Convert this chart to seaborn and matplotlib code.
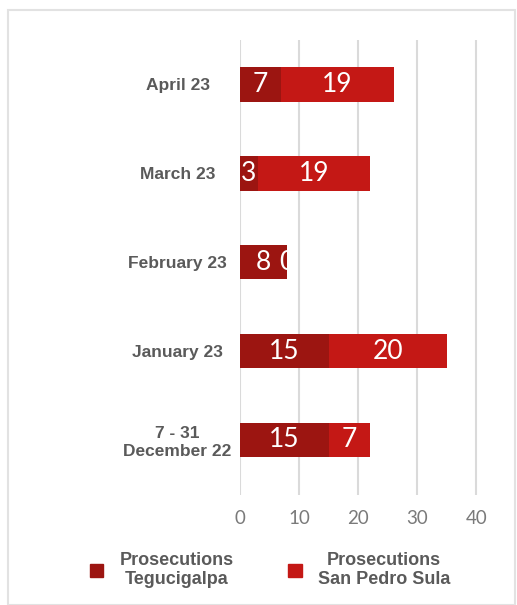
import matplotlib.pyplot as plt
import matplotlib.patches as mpatches
import pandas as pd
import seaborn as sns

sns.set_style("white")

months = ["April 23", "March 23", "February 23", "January 23", "7 - 31\nDecember 22"]
tegucigalpa = [7, 3, 8, 15, 15]
san_pedro_sula = [19, 19, 0, 20, 7]
series_names = ["Prosecutions\nTegucigalpa", "Prosecutions\nSan Pedro Sula"]

dark_red = "#9C1511"
red = "#C41815"
grey_text = "#5A5A5A"

df = pd.DataFrame({
    "Month": months,
    "Tegucigalpa": tegucigalpa,
    "San Pedro Sula": san_pedro_sula,
})
df["Total"] = df["Tegucigalpa"] + df["San Pedro Sula"]

fig = plt.figure(figsize=(5.17, 6.05), dpi=100)
ax = fig.add_axes([240 / 517, 1 - 495 / 605, (488 - 240) / 517, 455 / 605])

# stacked: total first, then the first segment on top
sns.barplot(data=df, y="Month", x="Total", order=months, color=red,
            width=0.39, saturation=1, linewidth=0, ax=ax)
sns.barplot(data=df, y="Month", x="Tegucigalpa", order=months, color=dark_red,
            width=0.39, saturation=1, linewidth=0, ax=ax)

for i, row in df.iterrows():
    t, s = row["Tegucigalpa"], row["San Pedro Sula"]
    ax.text(t / 2, i, str(t), color="white", ha="center", va="center",
            fontsize=19, family="Lato")
    ax.text(t + s / 2, i, str(s), color="white", ha="center", va="center",
            fontsize=19, family="Lato")

ax.set_xlim(0, 42)
ax.set_ylim(4.62, -0.5)
ax.set_xticks([0, 10, 20, 30, 40])
ax.grid(axis="x", color="#DADADA", linewidth=1.5)
ax.set_axisbelow(True)
for sp in ax.spines.values():
    sp.set_visible(False)
ax.set(xlabel="", ylabel="")
ax.tick_params(axis="x", length=0, pad=11, labelsize=13.5, labelcolor="#7A7A7A")
ax.tick_params(axis="y", length=0, pad=45)
for lbl in ax.get_xticklabels():
    lbl.set_family("Lato")
for lbl in ax.get_yticklabels():
    lbl.set_family("Liberation Sans")
    lbl.set_fontweight("bold")
    lbl.set_fontsize(12.5)
    lbl.set_color(grey_text)
    lbl.set_horizontalalignment("center")
    lbl.set_multialignment("center")

handles = [mpatches.Patch(color=dark_red), mpatches.Patch(color=red)]
leg = fig.legend(handles, series_names, loc="center", ncol=2,
                 bbox_to_anchor=(270 / 517, 1 - 570 / 605), frameon=False,
                 handlelength=0.75, handleheight=0.75, columnspacing=3.0,
                 handletextpad=0.9,
                 prop={"family": "Liberation Sans", "weight": "bold", "size": 13})
for t in leg.get_texts():
    t.set_color(grey_text)
    t.set_multialignment("center")

fig.patches.append(mpatches.Rectangle((8 / 517, 0), 507 / 517, 1 - 10 / 605,
                                      transform=fig.transFigure, fill=False,
                                      edgecolor="#E2E2E2", linewidth=1.5))

fig.savefig("out.png", dpi=100)
